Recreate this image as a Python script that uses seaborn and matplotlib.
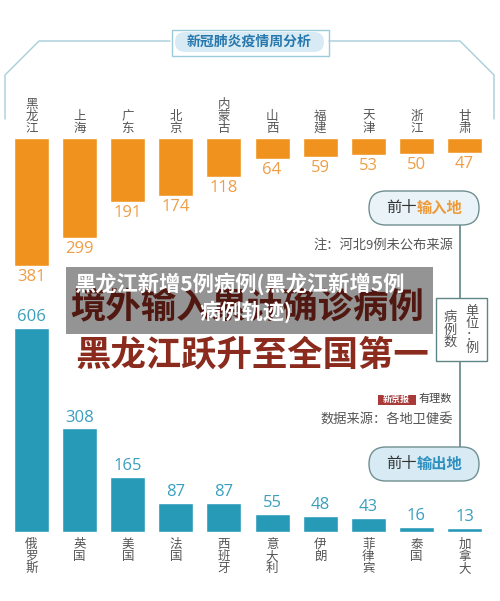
import pandas as pd
import matplotlib.pyplot as plt
from matplotlib.patches import FancyBboxPatch, Rectangle
import seaborn as sns

# 前十输入地
input_places = ['黑龙江', '上海', '广东', '北京', '内蒙古', '山西', '福建', '天津', '浙江', '甘肃']
input_cases = [381, 299, 191, 174, 118, 64, 59, 53, 50, 47]
# 前十输出地
output_places = ['俄罗斯', '英国', '美国', '法国', '西班牙', '意大利', '伊朗', '菲律宾', '泰国', '加拿大']
output_cases = [606, 308, 165, 87, 87, 55, 48, 43, 16, 13]

ORANGE = '#F0921E'
ORANGE_TEXT = '#EE9E47'
TEAL = '#279AB8'
TEAL_TEXT = '#3A9FBE'
GREY_TEXT = '#555555'
LINE = '#5F8586'
W, H = 500, 601

sns.set_theme(style='white')
plt.rcParams['font.family'] = ['Noto Sans CJK SC', 'DejaVu Sans']
plt.rcParams['axes.unicode_minus'] = False

fig = plt.figure(figsize=(5, 6.01), dpi=100, facecolor='white')


def add_axes_px(x0, y0, x1, y1):
    # 像素坐标 (原点在左上角) 转成 figure 坐标
    return fig.add_axes([x0 / W, 1 - y1 / H, (x1 - x0) / W, (y1 - y0) / H])


def draw_bars(ax, places, cases, color, text_color, ylim):
    df = pd.DataFrame({'place': places, 'cases': cases})
    sns.barplot(data=df, x='place', y='cases', color=color, saturation=1, width=0.7275, ax=ax)
    ax.set_ylim(*ylim)
    ax.bar_label(ax.containers[0], fontsize=12, color=text_color, padding=2, family='Open Sans')
    ax.set_xlim(-0.655, 9.738)
    ax.set_xlabel('')
    ax.set_ylabel('')
    ax.set_yticks([])
    ax.patch.set_alpha(0)
    sns.despine(ax=ax, left=True, bottom=True)


# 上半部分：输入地 (向下的柱子)
ax_top = add_axes_px(0, 137.5, W, 300)
draw_bars(ax_top, input_places, input_cases, ORANGE, ORANGE_TEXT, (481.8, 0))
ax_top.xaxis.tick_top()
ax_top.set_xticks(range(10))
ax_top.set_xticklabels(['\n'.join(p) for p in input_places], fontsize=9, color=GREY_TEXT, linespacing=0.9)
ax_top.tick_params(axis='x', length=0, pad=2)

# 下半部分：输出地
ax_bottom = add_axes_px(0, 300, W, 532.3)
draw_bars(ax_bottom, output_places, output_cases, TEAL, TEAL_TEXT, (0, 688))
ax_bottom.set_xticks(range(10))
ax_bottom.set_xticklabels(['\n'.join(p) for p in output_places], fontsize=9, color=GREY_TEXT, linespacing=0.9)
ax_bottom.tick_params(axis='x', length=0, pad=4)

# 覆盖层：装饰和文字，用像素坐标
ov = fig.add_axes([0, 0, 1, 1], zorder=5)
ov.set_xlim(0, W)
ov.set_ylim(H, 0)
ov.axis('off')

# 顶部标题框
ov.plot([5, 5, 39, 170], [119, 75, 41, 41], color='#A6CEDB', lw=1)
ov.plot([329, 460, 494, 494], [41, 41, 75, 119], color='#A6CEDB', lw=1)
ov.add_patch(Rectangle((171.5, 29.5), 157.5, 26.5, fc='white', ec='#9CCBDA', lw=1))
ov.add_patch(FancyBboxPatch((175, 32), 149, 20, boxstyle='round,pad=0,rounding_size=10',
                            mutation_aspect=1, fc='#D8EBF4', ec='none'))
ov.text(249.5, 42, '新冠肺炎疫情周分析', fontsize=10, color='#2878AE', weight='bold', ha='center', va='center')

# 连接线和单位框
ov.plot([460, 460], [225, 447], color=LINE, lw=1.2, zorder=1)
ov.add_patch(Rectangle((435.5, 298), 51, 63, fc='white', ec=LINE, lw=1, zorder=2))
ov.text(450, 330, '病\n例\n数', fontsize=9.5, color=GREY_TEXT, ha='center', va='center', linespacing=0.9, zorder=3)
ov.text(472, 330, '单\n位\n：\n例', fontsize=9.5, color=GREY_TEXT, ha='center', va='center', linespacing=0.9, zorder=3)

# 两个胶囊标签
for y0, fill, word, word_color in [(191, '#EAF4F8', '输入地', '#EE9A3A'), (447, '#D8EBF4', '输出地', '#2E8FC0')]:
    ov.add_patch(FancyBboxPatch((369, y0), 110, 34, boxstyle='round,pad=0,rounding_size=17',
                                mutation_aspect=1, fc=fill, ec='#6F8F90', lw=1, zorder=2))
    ov.text(386, y0 + 16.5, '前十', fontsize=11, color='#333333', weight='medium', va='center', zorder=3)
    ov.text(416.5, y0 + 16.5, word, fontsize=11, color=word_color, weight='bold', va='center', zorder=3)

# 注释
ov.text(453, 245.5, '注：河北9例未公布来源', fontsize=9.5, color=GREY_TEXT, ha='right', va='center')
ov.text(453, 420.5, '数据来源：各地卫健委', fontsize=9.5, color=GREY_TEXT, ha='right', va='center')
ov.add_patch(Rectangle((377.5, 394.5), 38, 10.5, fc='#A83A3A', ec='none'))
ov.text(396.5, 399.8, '新京报', fontsize=6.5, color='white', weight='bold', ha='center', va='center')
ov.text(435.5, 398.5, '有理数', fontsize=8, color='#444444', style='italic', ha='center', va='center')

# 大标题
ov.text(247, 308, '境外输入累计确诊病例', fontsize=25.5, color='#8A2B1E', weight='bold', ha='center', va='center', zorder=6)
ov.text(252, 355, '黑龙江跃升至全国第一', fontsize=25.5, color='#8A2B1E', weight='bold', ha='center', va='center', zorder=6)

# 半透明灰色横幅和白字
ov.add_patch(Rectangle((66, 267), 367, 67, fc='black', ec='none', alpha=0.42, zorder=7))
ov.text(239.5, 283.5, '黑龙江新增5例病例(黑龙江新增5例', fontsize=15.3, color='white', weight='bold', ha='center', va='center', zorder=8)
ov.text(245.5, 312, '病例轨迹)', fontsize=15.3, color='white', weight='bold', ha='center', va='center', zorder=8)

fig.savefig('out.png', dpi=100, facecolor='white')
